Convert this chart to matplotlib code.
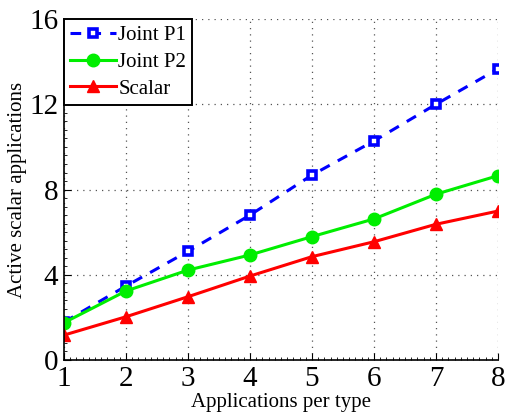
import matplotlib.pyplot as plt
from matplotlib.ticker import MultipleLocator

plt.rcParams['font.family'] = ['Liberation Serif', 'DejaVu Serif']

apps = [1, 2, 3, 4, 5, 6, 7, 8]
joint_p1 = [1.78, 3.47, 5.10, 6.80, 8.68, 10.28, 12.00, 13.66]
joint_p2 = [1.75, 3.24, 4.22, 4.93, 5.79, 6.62, 7.78, 8.65]
scalar = [1.17, 2.03, 2.97, 3.94, 4.85, 5.55, 6.37, 6.99]

fig = plt.figure(figsize=(5.06, 4.15), dpi=100)
ax = fig.add_axes([0.1265, 0.1325, 0.8575, 0.8215])

ax.plot(apps, joint_p1, '--s', color='blue', lw=2.2, ms=6, mew=2.6,
        mfc='white', mec='blue', label='Joint P1', dashes=(3.5, 3))
ax.plot(apps, joint_p2, '-o', color='#00ee00', lw=2.2, ms=9, label='Joint P2')
ax.plot(apps, scalar, '-^', color='red', lw=2.2, ms=9, label='Scalar')

ax.set_xlim(1, 8)
ax.set_ylim(0, 16)
ax.set_xticks(apps)
ax.set_yticks([0, 4, 8, 12, 16])
ax.xaxis.set_minor_locator(MultipleLocator(0.1))
ax.yaxis.set_minor_locator(MultipleLocator(0.4))
ax.tick_params(which='both', direction='in', top=False, right=False)
ax.tick_params(which='major', length=5, labelsize=21, pad=4)
ax.tick_params(which='minor', length=2.5)
ax.grid(True, which='major', linestyle=(0, (1, 4)), color='#555555', lw=0.9)

for side in ['top', 'right']:
    ax.spines[side].set_visible(False)
for side in ['left', 'bottom']:
    ax.spines[side].set_linewidth(1.2)

ax.set_xlabel('Applications per type', fontsize=15, labelpad=1)
ax.set_ylabel('Active scalar applications', fontsize=15, labelpad=2)

leg = ax.legend(loc='upper left', fontsize=15, fancybox=False, framealpha=1,
                edgecolor='black', borderaxespad=0, handlelength=2.2,
                handletextpad=0.1, borderpad=0.3, labelspacing=0.35)
leg.get_frame().set_linewidth(1.4)

fig.savefig('out.png', dpi=100)
